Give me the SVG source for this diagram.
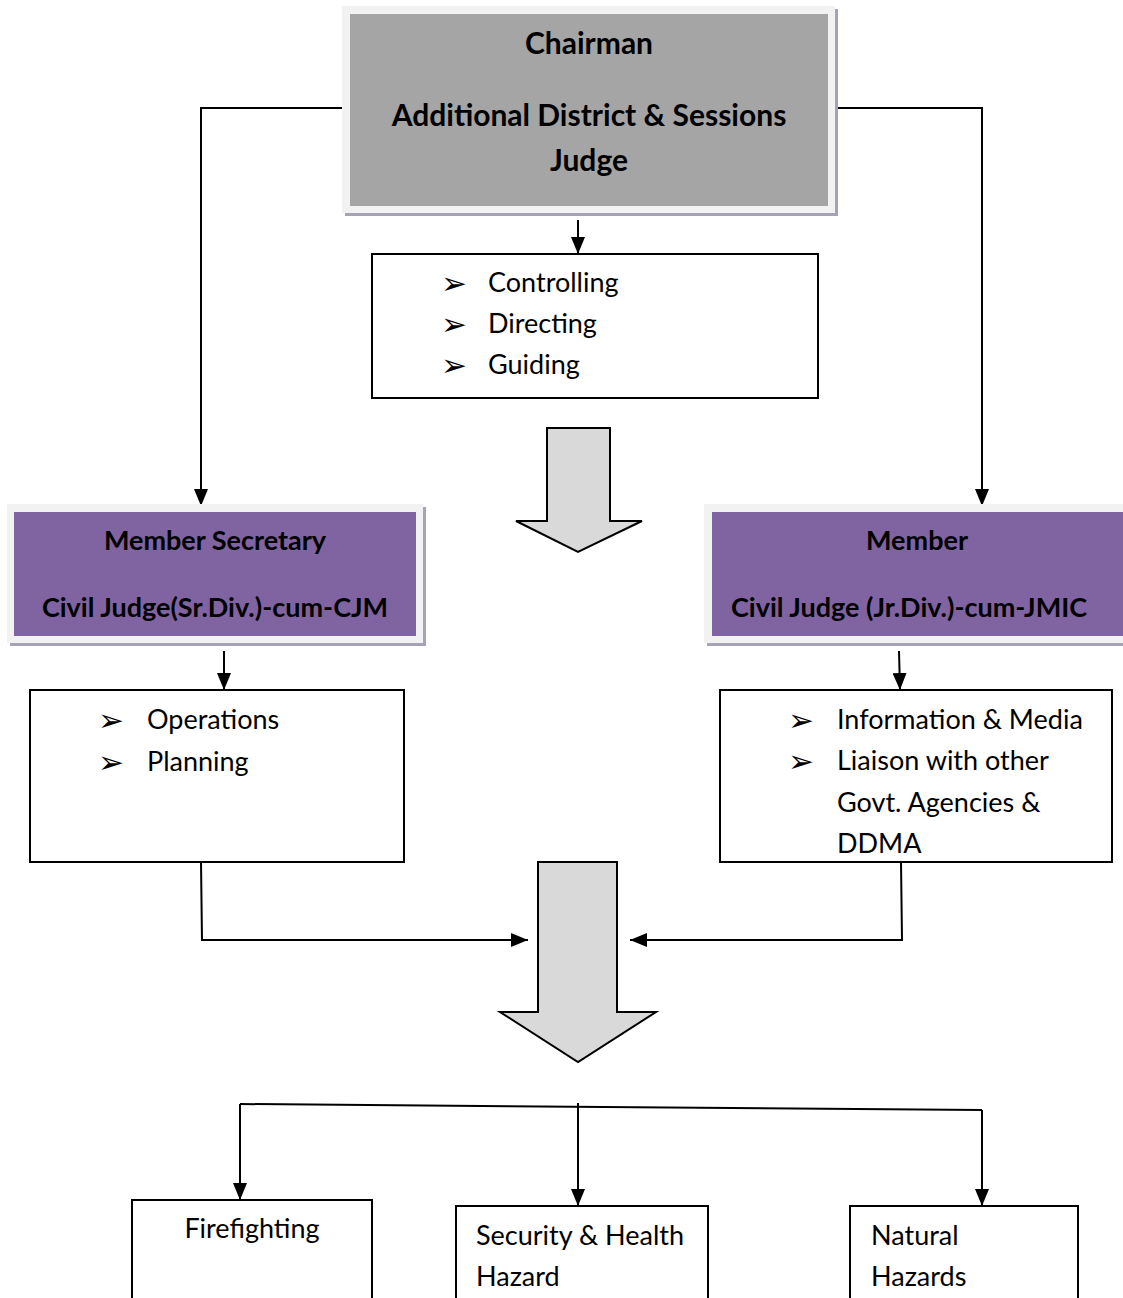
<svg xmlns="http://www.w3.org/2000/svg" width="1123" height="1298" viewBox="0 0 1123 1298">
<defs>
<style>
.t{font-family:Lato,"Liberation Sans",sans-serif;fill:#000}
.b{font-weight:bold}
.h{font-size:30px}
.m{font-size:27px}
.r{font-size:27px}
.bul{font-family:"DejaVu Sans",sans-serif;font-size:31px;fill:#000}
.box{fill:#fff;stroke:#000;stroke-width:2}
.big{fill:#d9d9d9;stroke:#000;stroke-width:2;stroke-linejoin:miter}
.con{fill:none;stroke:#000;stroke-width:2}
.sh{fill:#a7a3b7}
.fr{fill:#f2f2f2}
</style>
<marker id="ah" markerUnits="userSpaceOnUse" markerWidth="17" markerHeight="14" refX="17" refY="7" orient="auto">
<path d="M0,0 L17,7 L0,14 z" fill="#000"/>
</marker>
</defs>
<rect width="1123" height="1298" fill="#fff"/>

<g id="connectors">
<path class="con" d="M346,108 H201 V506" marker-end="url(#ah)"/>
<path class="con" d="M836,108 H982 V506" marker-end="url(#ah)"/>
<path class="con" d="M578,220 V254" marker-end="url(#ah)"/>
<path class="con" d="M224,651 V690" marker-end="url(#ah)"/>
<path class="con" d="M899,651 L900,690" marker-end="url(#ah)"/>
<path class="con" d="M201,862 L202,940 H528" marker-end="url(#ah)"/>
<path class="con" d="M901,862 L902,940 H630" marker-end="url(#ah)"/>
<path class="con" d="M240,1104 L982,1110"/>
<path class="con" d="M240,1104 V1200" marker-end="url(#ah)"/>
<path class="con" d="M982,1110 V1206" marker-end="url(#ah)"/>
<path class="con" d="M578,1103 V1206" marker-end="url(#ah)"/>
</g>

<g id="chairman">
<rect class="sh" x="345" y="9" width="493" height="207"/>
<rect class="fr" x="342" y="6" width="493" height="207"/>
<rect x="350" y="14" width="478" height="192" fill="#a5a5a5"/>
<text class="t b h" x="589" y="54" text-anchor="middle">Chairman</text>
<text class="t b h" x="589" y="126" text-anchor="middle">Additional District &amp; Sessions</text>
<text class="t b h" x="589" y="171" text-anchor="middle">Judge</text>
</g>

<g id="functions">
<rect class="box" x="372" y="254" width="446" height="144"/>
<text class="bul" x="441" y="294">➢</text>
<text class="bul" x="441" y="335">➢</text>
<text class="bul" x="441" y="376">➢</text>
<text class="t r" x="488" y="292">Controlling</text>
<text class="t r" x="488" y="333">Directing</text>
<text class="t r" x="488" y="374">Guiding</text>
</g>

<g id="bigarrow1">
<path class="big" d="M547,428 H610 V521 H642 L578,552 L516,521 H547 Z"/>
</g>

<g id="member-secretary">
<rect class="sh" x="10" y="507" width="416" height="139"/>
<rect class="fr" x="7" y="504" width="416" height="139"/>
<rect x="14" y="512" width="402" height="124" fill="#8064a2"/>
<text class="t b m" x="215" y="550" text-anchor="middle">Member Secretary</text>
<text class="t b m" x="215" y="617" text-anchor="middle">Civil Judge(Sr.Div.)-cum-CJM</text>
</g>

<g id="member">
<rect class="sh" x="707" y="507" width="420" height="139"/>
<rect class="fr" x="704" y="504" width="420" height="139"/>
<rect x="712" y="512" width="415" height="124" fill="#8064a2"/>
<text class="t b m" x="917" y="550" text-anchor="middle">Member</text>
<text class="t b m" x="909" y="617" text-anchor="middle">Civil Judge (Jr.Div.)-cum-JMIC</text>
</g>

<g id="ops">
<rect class="box" x="30" y="690" width="374" height="172"/>
<text class="bul" x="98" y="731">➢</text>
<text class="bul" x="98" y="773">➢</text>
<text class="t r" x="147" y="729">Operations</text>
<text class="t r" x="147" y="771">Planning</text>
</g>

<g id="info">
<rect class="box" x="720" y="690" width="392" height="172"/>
<text class="bul" x="788" y="731">➢</text>
<text class="bul" x="788" y="772">➢</text>
<text class="t r" x="837" y="729">Information &amp; Media</text>
<text class="t r" x="837" y="770">Liaison with other</text>
<text class="t r" x="837" y="812">Govt. Agencies &amp;</text>
<text class="t r" x="837" y="853">DDMA</text>
</g>

<g id="bigarrow2">
<path class="big" d="M538,862 H617 V1012 H656 L578,1062 L500,1012 H538 Z"/>
</g>

<g id="firefighting">
<rect class="box" x="132" y="1200" width="240" height="140"/>
<text class="t r" x="252" y="1238" text-anchor="middle">Firefighting</text>
</g>

<g id="security">
<rect class="box" x="456" y="1206" width="252" height="140"/>
<text class="t r" x="476" y="1245">Security &amp; Health</text>
<text class="t r" x="476" y="1286">Hazard</text>
</g>

<g id="natural">
<rect class="box" x="850" y="1206" width="228" height="140"/>
<text class="t r" x="871" y="1245">Natural</text>
<text class="t r" x="871" y="1286">Hazards</text>
</g>
</svg>
